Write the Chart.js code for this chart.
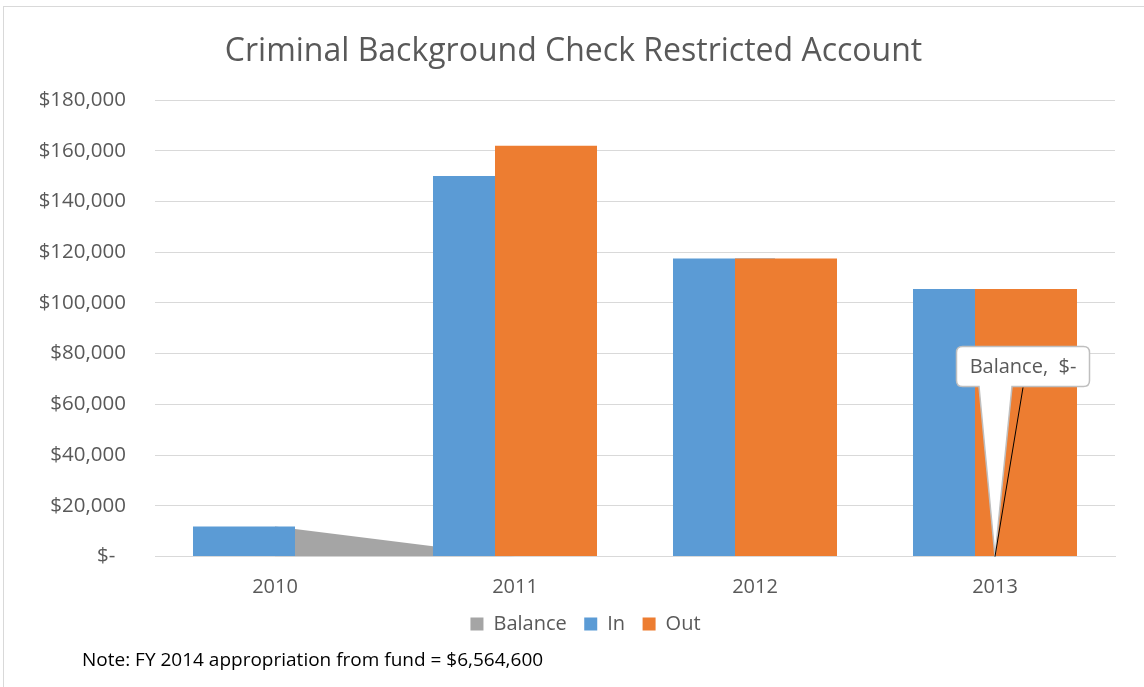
<!DOCTYPE html>
<html>
<head>
<meta charset="utf-8">
<script src="https://cdn.jsdelivr.net/npm/chart.js@4"></script>
<style>
  body { margin: 0; background: #fff; overflow: hidden; }
  #wrap { position: relative; width: 1144px; height: 687px; overflow: hidden; }
  #frame { position: absolute; left: 3px; top: 6px; width: 1200px; height: 800px; border: 1px solid #d9d9d9; }
  #grafico { position: absolute; left: 0; top: 0; }
  #nota { position: absolute; left: 82px; top: 647px; font-family: "Open Sans", sans-serif; font-size: 19px; line-height: 24px; color: #000; white-space: nowrap; }
</style>
</head>
<body>
<div id="wrap">
  <div id="frame"></div>
  <canvas id="grafico" width="1144" height="687"></canvas>
  <div id="nota">Note: FY 2014 appropriation from fund = $6,564,600</div>
</div>
<script>
// dados
let anos = ["2010", "2011", "2012", "2013"];
let saldo = [11800, 0, 0, 0];          // Balance
let entradas = [11800, 150000, 117500, 105500]; // In
let saidas = [0, 162000, 117500, 105500];       // Out

let titulo = "Criminal Background Check Restricted Account";
let fonte = '"Open Sans", sans-serif';
let cinzaTexto = "#595959";

function moeda(v) {
    if (v === 0) return "$-  ";
    return "$" + v.toLocaleString("en-US");
}

// Out tem que ficar por cima de In (sobreposicao das colunas)
const outPorCima = {
    id: "outPorCima",
    beforeDatasetDraw(chart, args) {
        if (args.index === 2 && !chart.$desenhandoOut) return false;
    },
    afterDatasetDraw(chart, args) {
        if (args.index === 1) {
            chart.$desenhandoOut = true;
            chart.getDatasetMeta(2).controller.draw();
            chart.$desenhandoOut = false;
        }
    }
};

// no Excel o titulo e a legenda ficam um pouco mais para a direita
const ajusteCentro = {
    id: "ajusteCentro",
    afterLayout(chart) {
        if (chart.titleBlock) chart.titleBlock.left += 32;
        if (chart.legend) chart.legend.left += 56;
    }
};

// balao "Balance, $-" no ultimo ponto do saldo
const balao = {
    id: "balao",
    afterDatasetsDraw(chart) {
        let meta = chart.getDatasetMeta(0);
        let ult = saldo.length - 1;
        let p = meta.data[ult];
        let ctx = chart.ctx;
        let texto = "Balance,  " + moeda(saldo[ult]).trim();

        ctx.save();
        ctx.font = "20px " + fonte;
        let w = 133, h = 40;
        let cx = p.x + 28, cy = p.y - 190;
        let x0 = cx - w / 2, y0 = cy - h / 2;

        ctx.beginPath();
        let r = 6;
        ctx.moveTo(x0 + r, y0);
        ctx.lineTo(x0 + w - r, y0);
        ctx.quadraticCurveTo(x0 + w, y0, x0 + w, y0 + r);
        ctx.lineTo(x0 + w, y0 + h - r);
        ctx.quadraticCurveTo(x0 + w, y0 + h, x0 + w - r, y0 + h);
        ctx.lineTo(p.x + 17, y0 + h);
        ctx.lineTo(p.x, p.y);
        ctx.lineTo(p.x - 16, y0 + h);
        ctx.lineTo(x0 + r, y0 + h);
        ctx.quadraticCurveTo(x0, y0 + h, x0, y0 + h - r);
        ctx.lineTo(x0, y0 + r);
        ctx.quadraticCurveTo(x0, y0, x0 + r, y0);
        ctx.closePath();
        ctx.fillStyle = "#fff";
        ctx.fill();
        ctx.strokeStyle = "#bfbfbf";
        ctx.lineWidth = 1.5;
        ctx.stroke();

        ctx.beginPath();
        ctx.moveTo(p.x, p.y);
        ctx.lineTo(cx, y0 + h + 1);
        ctx.strokeStyle = "#000";
        ctx.lineWidth = 1;
        ctx.stroke();

        ctx.fillStyle = cinzaTexto;
        ctx.textAlign = "center";
        ctx.textBaseline = "middle";
        ctx.fillText(texto, cx, cy + 1);
        ctx.restore();
    }
};

let ctx = document.getElementById("grafico").getContext("2d");

let grafico = new Chart(ctx, {
    type: "bar",
    data: {
        labels: anos,
        datasets: [
            {
                type: "line",
                label: "Balance",
                data: saldo,
                backgroundColor: "#a5a5a5",
                borderColor: "#a5a5a5",
                borderWidth: 0,
                pointRadius: 0,
                fill: "origin",
                tension: 0,
                order: 2
            },
            {
                label: "In",
                data: entradas,
                backgroundColor: "#5b9bd5",
                categoryPercentage: 0.5167,
                barPercentage: 1.645,
                order: 1
            },
            {
                label: "Out",
                data: saidas,
                backgroundColor: "#ed7d31",
                categoryPercentage: 0.5167,
                barPercentage: 1.645,
                order: 1
            }
        ]
    },
    options: {
        responsive: false,
        animation: false,
        layout: {
            padding: { left: 0, right: 29, top: 0, bottom: 43 }
        },
        scales: {
            x: {
                grid: { display: false, drawTicks: false },
                border: { color: "#d9d9d9" },
                ticks: {
                    padding: 19,
                    color: cinzaTexto,
                    font: { family: fonte, size: 20 }
                },
                afterFit(scale) { scale.height = 40; }
            },
            y: {
                min: 0,
                max: 180000,
                grid: { color: "#d9d9d9", drawTicks: false },
                border: { display: false },
                ticks: {
                    stepSize: 20000,
                    padding: 29,
                    color: cinzaTexto,
                    font: { family: fonte, size: 20.5 },
                    callback: v => moeda(v)
                },
                afterFit(scale) { scale.width = 155; }
            }
        },
        plugins: {
            title: {
                display: true,
                text: titulo,
                color: cinzaTexto,
                font: { family: fonte, size: 32, weight: "normal" },
                padding: { top: 33, bottom: 28.6 }
            },
            legend: {
                position: "bottom",
                labels: {
                    boxWidth: 13,
                    boxHeight: 13,
                    padding: 17.5,
                    color: cinzaTexto,
                    font: { family: fonte, size: 20 },
                    sort: (a, b) => a.datasetIndex - b.datasetIndex
                }
            },
            tooltip: { enabled: false }
        }
    },
    plugins: [outPorCima, ajusteCentro, balao]
});
</script>
</body>
</html>
